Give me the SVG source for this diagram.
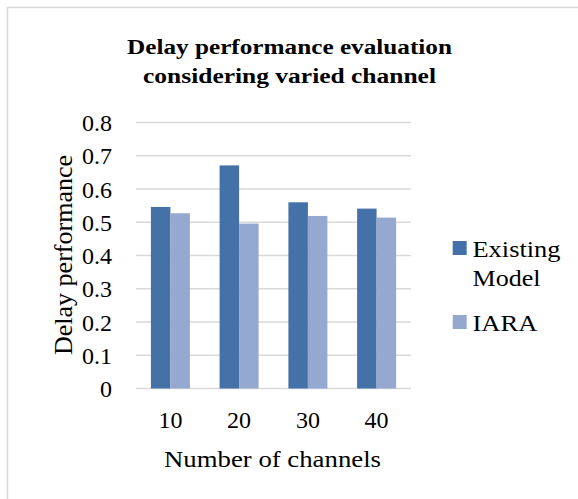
<svg xmlns="http://www.w3.org/2000/svg" width="578" height="499" viewBox="0 0 578 499">
<style>
.title{font-size:20px;font-weight:bold}
.tick{font-size:24px}
.ytitle{font-size:25px}
.grid{stroke:#D9D9D9;stroke-width:1.5}
.s1{fill:#4472A8}
.s2{fill:#95A9D0}
</style>
<rect width="578" height="499" fill="#fff"/>
<rect x="7.5" y="7.5" width="600" height="600" fill="none" stroke="#D9D9D9" stroke-width="1.5"/>
<g font-family="Liberation Serif, Times, Times New Roman, serif" fill="#000">
<g id="title">
<text class="title" x="289.5" y="54" text-anchor="middle" textLength="325" lengthAdjust="spacingAndGlyphs">Delay performance evaluation</text>
<text class="title" x="289.5" y="83" text-anchor="middle" textLength="293" lengthAdjust="spacingAndGlyphs">considering varied channel</text>
</g>
<g id="y-axis">
<text class="tick" x="112" y="131" text-anchor="end">0.8</text>
<text class="tick" x="112" y="164.25" text-anchor="end">0.7</text>
<text class="tick" x="112" y="197.5" text-anchor="end">0.6</text>
<text class="tick" x="112" y="230.75" text-anchor="end">0.5</text>
<text class="tick" x="112" y="264" text-anchor="end">0.4</text>
<text class="tick" x="112" y="297.25" text-anchor="end">0.3</text>
<text class="tick" x="112" y="330.5" text-anchor="end">0.2</text>
<text class="tick" x="112" y="363.75" text-anchor="end">0.1</text>
<text class="tick" x="112" y="397" text-anchor="end">0</text>
<text class="ytitle" transform="translate(72,255) rotate(-90)" text-anchor="middle" textLength="200" lengthAdjust="spacingAndGlyphs">Delay performance</text>
</g>
<g id="x-axis">
<text class="tick" x="170.4" y="428" text-anchor="middle">10</text>
<text class="tick" x="239.1" y="428" text-anchor="middle">20</text>
<text class="tick" x="307.9" y="428" text-anchor="middle">30</text>
<text class="tick" x="376.6" y="428" text-anchor="middle">40</text>
<text class="tick" x="272.5" y="467" text-anchor="middle" textLength="217" lengthAdjust="spacingAndGlyphs">Number of channels</text>
</g>
<g id="legend">
<rect class="s1" x="452.7" y="241" width="14" height="14"/>
<text class="tick" x="472.5" y="257" textLength="88" lengthAdjust="spacingAndGlyphs">Existing</text>
<text class="tick" x="472.5" y="286" textLength="68" lengthAdjust="spacingAndGlyphs">Model</text>
<rect class="s2" x="452.7" y="315" width="14" height="14"/>
<text class="tick" x="472.5" y="331" textLength="65" lengthAdjust="spacingAndGlyphs">IARA</text>
</g>
</g>
<g id="gridlines">
<line class="grid" x1="136" x2="411" y1="122.5" y2="122.5"/>
<line class="grid" x1="136" x2="411" y1="155.75" y2="155.75"/>
<line class="grid" x1="136" x2="411" y1="189" y2="189"/>
<line class="grid" x1="136" x2="411" y1="222.25" y2="222.25"/>
<line class="grid" x1="136" x2="411" y1="255.5" y2="255.5"/>
<line class="grid" x1="136" x2="411" y1="288.75" y2="288.75"/>
<line class="grid" x1="136" x2="411" y1="322" y2="322"/>
<line class="grid" x1="136" x2="411" y1="355.25" y2="355.25"/>
<line class="grid" x1="136" x2="411" y1="388.5" y2="388.5"/>
</g>
<g id="bars">
<rect class="s1" x="150.9" y="206.95" width="19.5" height="181.55"/>
<rect class="s2" x="170.4" y="213.27" width="19.5" height="175.23"/>
<rect class="s1" x="219.6" y="165.4" width="19.5" height="223.1"/>
<rect class="s2" x="239.1" y="223.58" width="19.5" height="164.92"/>
<rect class="s1" x="288.4" y="202.3" width="19.5" height="186.2"/>
<rect class="s2" x="307.9" y="215.93" width="19.5" height="172.57"/>
<rect class="s1" x="357.1" y="208.62" width="19.5" height="179.88"/>
<rect class="s2" x="376.6" y="217.6" width="19.5" height="170.9"/>
</g>
</svg>
